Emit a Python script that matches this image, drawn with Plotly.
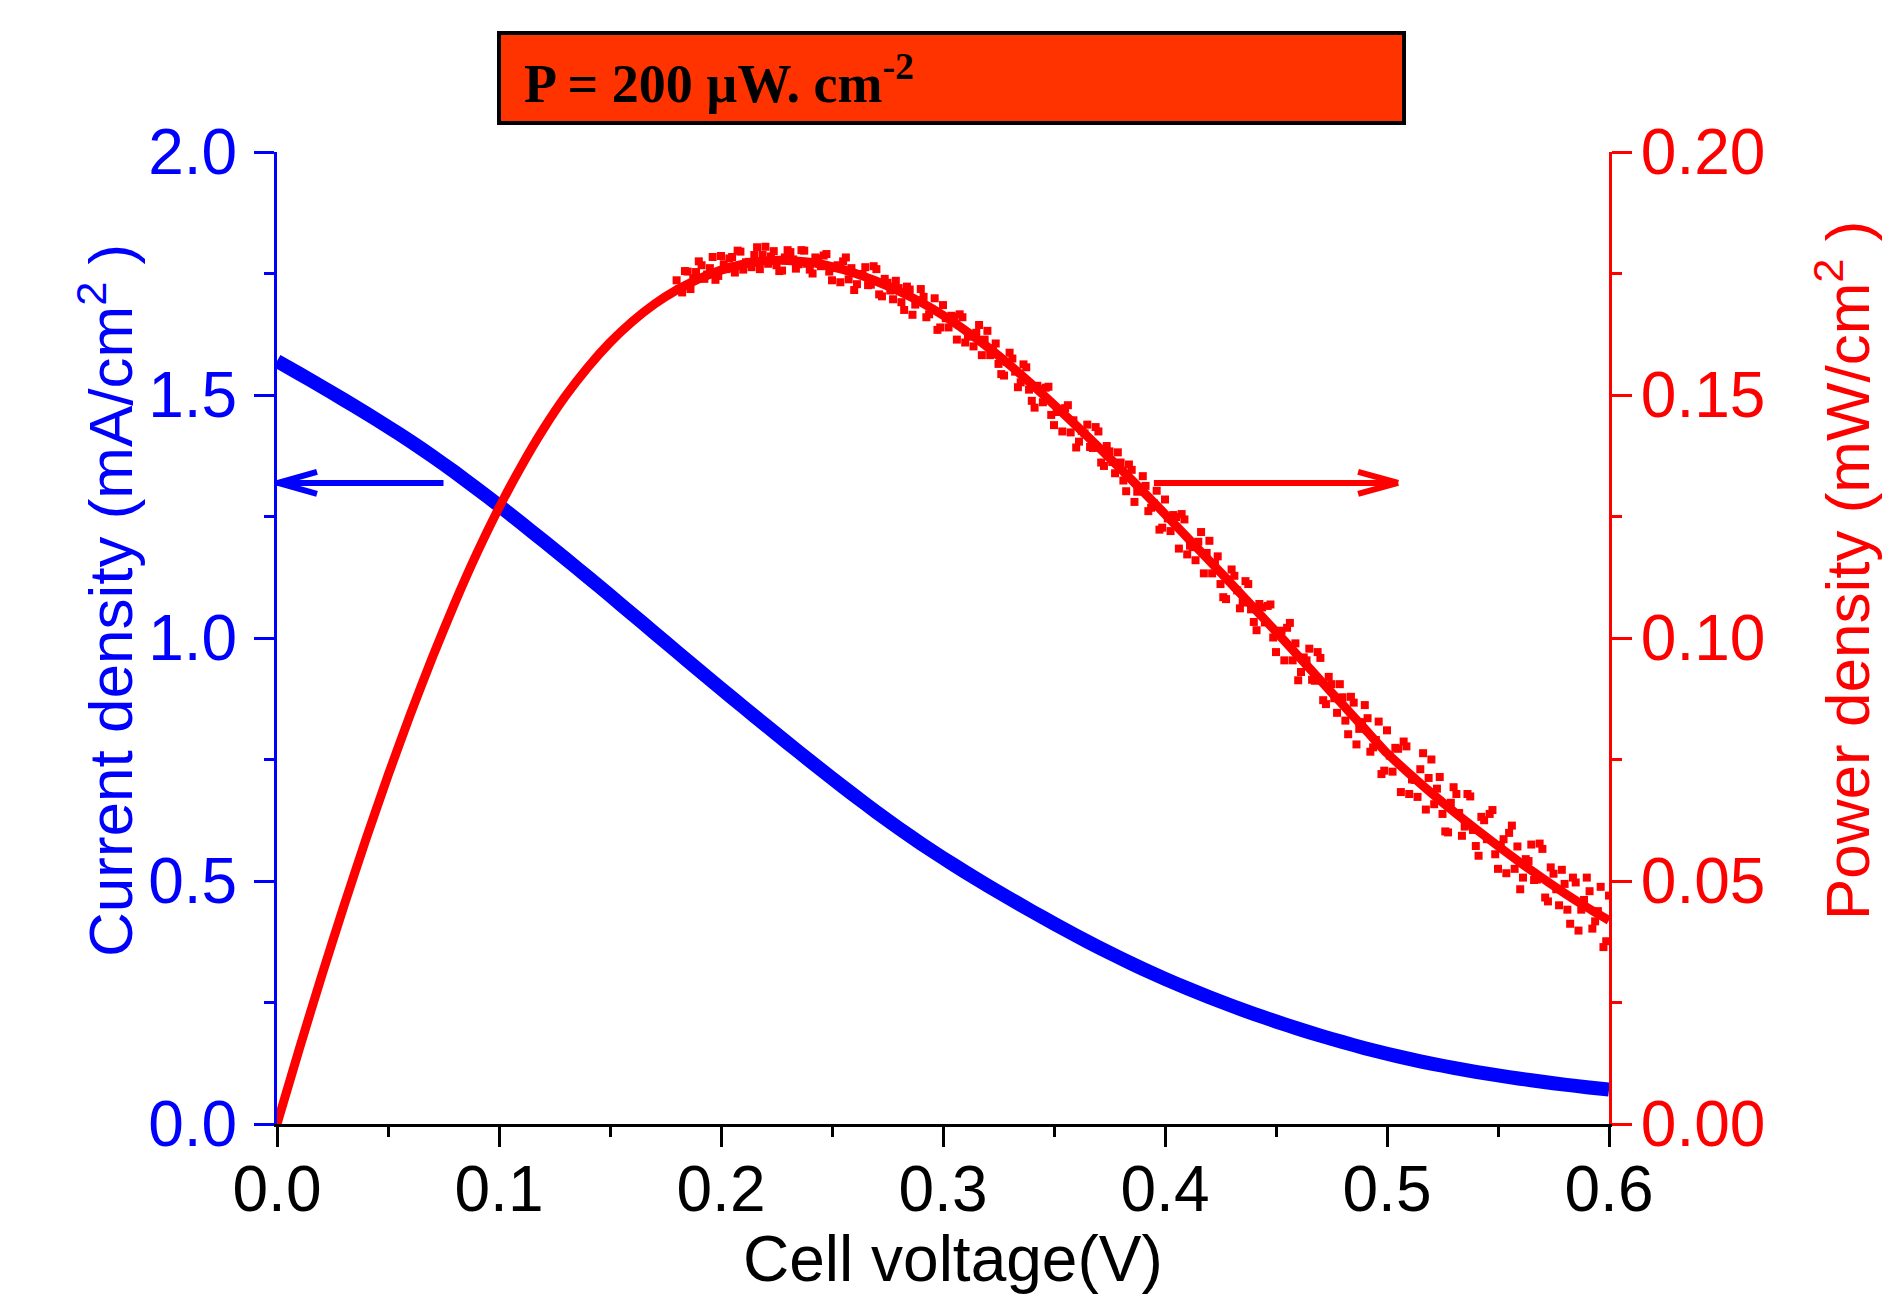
import numpy as np
import plotly.graph_objects as go

# ---------------- data ----------------
V_main = [round(0.01 * i, 2) for i in range(61)]  # cell voltage sweep (V)

J_main = [1.5700, 1.5440, 1.5175, 1.4905, 1.4630, 1.4345, 1.4050, 1.3740, 1.3415, 1.3075,
          1.2725, 1.2365, 1.2000, 1.1630, 1.1255, 1.0875, 1.0492, 1.0107, 0.9722, 0.9339,
          0.8959, 0.8582, 0.8209, 0.7839, 0.7474, 0.7114, 0.6761, 0.6418, 0.6088, 0.5773,
          0.5473, 0.5186, 0.4909, 0.4640, 0.4378, 0.4123, 0.3876, 0.3638, 0.3410, 0.3193,
          0.2987, 0.2792, 0.2607, 0.2432, 0.2266, 0.2109, 0.1960, 0.1819, 0.1686, 0.1561,
          0.1445, 0.1339, 0.1243, 0.1155, 0.1074, 0.1000, 0.0932, 0.0869, 0.0811, 0.0757,
          0.0707]

P_main = [0.0000, 0.0154, 0.0303, 0.0447, 0.0585, 0.0717, 0.0842, 0.0960, 0.1071, 0.1174,
          0.1268, 0.1353, 0.1430, 0.1498, 0.1557, 0.1608, 0.1651, 0.1687, 0.1716, 0.1739,
          0.1757, 0.1769, 0.1776, 0.1777, 0.1773, 0.1764, 0.1751, 0.1734, 0.1714, 0.1691,
          0.1664, 0.1633, 0.1599, 0.1562, 0.1522, 0.1480, 0.1437, 0.1393, 0.1348, 0.1302,
          0.1255, 0.1207, 0.1159, 0.1111, 0.1062, 0.1013, 0.0963, 0.0913, 0.0863, 0.0813,
          0.0763, 0.0721, 0.0681, 0.0643, 0.0607, 0.0572, 0.0538, 0.0506, 0.0475, 0.0446,
          0.0419]

# scattered power-density points, set A (V from 0.18 to 0.60, step 0.0025)
P_scatter_a = [
    0.1736, 0.1711, 0.1754, 0.1740, 0.1775, 0.1739, 0.1761, 0.1737, 0.1786, 0.1759,
    0.1784, 0.1797, 0.1758, 0.1774, 0.1788, 0.1759, 0.1805, 0.1785, 0.1767, 0.1756,
    0.1798, 0.1779, 0.1769, 0.1797, 0.1758, 0.1783, 0.1765, 0.1790,
    0.1736, 0.1767, 0.1775, 0.1738, 0.1716, 0.1749, 0.1763, 0.1727, 0.1759, 0.1703,
    0.1731, 0.1697, 0.1720, 0.1675, 0.1717, 0.1686, 0.1718, 0.1660, 0.1675, 0.1634,
    0.1685, 0.1639, 0.1661, 0.1666, 0.1608, 0.1620, 0.1628, 0.1582, 0.1632, 0.1596,
    0.1564, 0.1540,
    0.1587, 0.1548, 0.1526, 0.1557, 0.1488, 0.1519, 0.1485, 0.1517, 0.1438, 0.1470,
    0.1473, 0.1423, 0.1392, 0.1426, 0.1439, 0.1391, 0.1425, 0.1354, 0.1384, 0.1339,
    0.1361, 0.1302, 0.1346, 0.1301, 0.1333, 0.1261, 0.1277, 0.1223,
    0.1285, 0.1220, 0.1249, 0.1255, 0.1172, 0.1187, 0.1198, 0.1133, 0.1200, 0.1154,
    0.1111, 0.1080, 0.1141, 0.1098, 0.1073, 0.1111, 0.1033, 0.1070, 0.1032, 0.1069,
    0.0971, 0.1015, 0.1021, 0.0954, 0.0913, 0.0960, 0.0978, 0.0912, 0.0959, 0.0864,
    0.0905, 0.0846, 0.0878, 0.0802, 0.0867, 0.0813, 0.0862, 0.0766, 0.0790, 0.0720,
    0.0810, 0.0725, 0.0772, 0.0787, 0.0679, 0.0708, 0.0730, 0.0647, 0.0750, 0.0690,
    0.0638, 0.0600, 0.0693, 0.0640, 0.0612, 0.0674, 0.0572, 0.0632, 0.0586, 0.0646,
    0.0525, 0.0586, 0.0599, 0.0525, 0.0483, 0.0545, 0.0575, 0.0503, 0.0566, 0.0458,
    0.0515, 0.0450, 0.0494, 0.0412, 0.0497, 0.0441, 0.0507, 0.0402, 0.0438, 0.0364,
    0.0470]
V_scatter_a = np.linspace(0.18, 0.60, len(P_scatter_a))

# scattered power-density points, set B (V from 0.18125 to 0.59875, step 0.0025)
P_scatter_b = [
    0.1718, 0.1755, 0.1718, 0.1753, 0.1767, 0.1748, 0.1784, 0.1745, 0.1769, 0.1781,
    0.1752, 0.1795, 0.1773, 0.1763, 0.1804, 0.1788, 0.1770, 0.1796, 0.1755, 0.1783,
    0.1794, 0.1760, 0.1798, 0.1770, 0.1750, 0.1781, 0.1787, 0.1754,
    0.1761, 0.1732, 0.1783, 0.1761, 0.1728, 0.1747, 0.1726, 0.1765, 0.1707, 0.1739,
    0.1715, 0.1735, 0.1691, 0.1723, 0.1665, 0.1695, 0.1702, 0.1666, 0.1699, 0.1639,
    0.1658, 0.1663, 0.1614, 0.1660, 0.1622, 0.1600, 0.1644, 0.1614, 0.1582, 0.1606,
    0.1543, 0.1568,
    0.1575, 0.1516, 0.1563, 0.1511, 0.1474, 0.1512, 0.1515, 0.1459, 0.1465, 0.1425,
    0.1479, 0.1448, 0.1404, 0.1421, 0.1393, 0.1434, 0.1361, 0.1395, 0.1362, 0.1382,
    0.1324, 0.1357, 0.1280, 0.1310, 0.1313, 0.1268, 0.1303, 0.1227,
    0.1246, 0.1253, 0.1184, 0.1244, 0.1190, 0.1160, 0.1218, 0.1175, 0.1133, 0.1168,
    0.1084, 0.1120, 0.1128, 0.1061, 0.1117, 0.1059, 0.1016, 0.1063, 0.1066, 0.1001,
    0.1009, 0.0954, 0.1031, 0.0989, 0.0930, 0.0954, 0.0914, 0.0971, 0.0872, 0.0920,
    0.0876, 0.0905, 0.0830, 0.0879, 0.0781, 0.0827, 0.0835, 0.0775, 0.0828, 0.0727,
    0.0758, 0.0774, 0.0683, 0.0777, 0.0709, 0.0673, 0.0763, 0.0712, 0.0658, 0.0714,
    0.0602, 0.0661, 0.0679, 0.0593, 0.0679, 0.0605, 0.0552, 0.0625, 0.0638, 0.0555,
    0.0574, 0.0516, 0.0614, 0.0571, 0.0507, 0.0541, 0.0502, 0.0577, 0.0466, 0.0528,
    0.0483, 0.0523, 0.0441, 0.0507, 0.0398, 0.0461, 0.0479, 0.0417, 0.0488, 0.0376]
V_scatter_b = np.linspace(0.18125, 0.59875, len(P_scatter_b))

x_ticks = [0.0, 0.1, 0.2, 0.3, 0.4, 0.5, 0.6]
y1_ticks = [0.0, 0.5, 1.0, 1.5, 2.0]
y2_ticks = [0.00, 0.05, 0.10, 0.15, 0.20]

# ---------------- style ----------------
BLUE = "#0000FF"
RED = "#FF0000"
FONT = "Liberation Sans, Arial, sans-serif"
OFF = 8                      # default page margin around the figure
W, H = 1880, 1288
ML, MT = 269, 144
PW, PH = 1332, 972
MR = W - ML - PW
MB = H - MT - PH

fig = go.Figure()

fig.add_trace(go.Scatter(x=V_main, y=J_main, mode="lines",
                         line=dict(color=BLUE, width=14, shape="spline", smoothing=0.6),
                         yaxis="y", showlegend=False, hoverinfo="skip"))
fig.add_trace(go.Scatter(x=V_main, y=P_main, mode="lines",
                         line=dict(color=RED, width=9, shape="spline", smoothing=0.6),
                         yaxis="y2", showlegend=False, hoverinfo="skip"))
for vx, py in ((V_scatter_a, P_scatter_a), (V_scatter_b, P_scatter_b)):
    fig.add_trace(go.Scatter(x=vx, y=py, mode="markers",
                             marker=dict(symbol="square", size=8, color=RED,
                                         line=dict(width=0)),
                             yaxis="y2", showlegend=False, hoverinfo="skip"))

tickfont = dict(family=FONT, size=64)

fig.update_layout(
    width=W, height=H,
    margin=dict(l=ML, r=MR, t=MT, b=MB, pad=0),
    paper_bgcolor="white", plot_bgcolor="white",
    showlegend=False,
    xaxis=dict(range=[0, 0.6], tickvals=x_ticks, tickformat=".1f",
               showgrid=False, zeroline=False, showline=True,
               linecolor="black", linewidth=3,
               ticks="outside", ticklen=20, tickwidth=3, tickcolor="black",
               tickfont=dict(tickfont, color="black"), ticklabelstandoff=-13,
               minor=dict(dtick=0.05, ticks="outside", ticklen=10,
                          tickwidth=3, tickcolor="black")),
    yaxis=dict(range=[0, 2.0], tickvals=y1_ticks, tickformat=".1f",
               showgrid=False, zeroline=False, showline=True,
               linecolor=BLUE, linewidth=3,
               ticks="outside", ticklen=20, tickwidth=3, tickcolor=BLUE,
               tickfont=dict(tickfont, color=BLUE), ticklabelstandoff=4,
               minor=dict(dtick=0.25, ticks="outside", ticklen=10,
                          tickwidth=3, tickcolor=BLUE)),
    yaxis2=dict(range=[0, 0.2], tickvals=y2_ticks, tickformat=".2f",
                overlaying="y", side="right",
                showgrid=False, zeroline=False, showline=True,
                linecolor=RED, linewidth=3,
                ticks="outside", ticklen=20, tickwidth=3, tickcolor=RED,
                tickfont=dict(tickfont, color=RED), ticklabelstandoff=-4,
                minor=dict(dtick=0.025, ticks="outside", ticklen=10,
                           tickwidth=3, tickcolor=RED)),
)


def px_x(p):
    """page pixel -> paper x"""
    return (p - OFF - ML) / PW


def px_y(p):
    """page pixel -> paper y"""
    return (MT + PH - (p - OFF)) / PH


# axis titles
fig.add_annotation(text="Cell voltage(V)", xref="paper", yref="paper",
                   x=px_x(953), y=px_y(1259), xanchor="center", yanchor="middle",
                   showarrow=False, font=dict(family=FONT, size=64, color="black"))
fig.add_annotation(text="Current density (mA/cm<sup>2</sup> )", xref="paper", yref="paper",
                   x=px_x(106), y=px_y(601), xanchor="center", yanchor="middle",
                   textangle=-90, showarrow=False,
                   font=dict(family=FONT, size=62, color=BLUE))
fig.add_annotation(text="Power density (mW/cm<sup>2</sup> )", xref="paper", yref="paper",
                   x=px_x(1843), y=px_y(571), xanchor="center", yanchor="middle",
                   textangle=-90, showarrow=False,
                   font=dict(family=FONT, size=62, color=RED))

# header box
fig.add_shape(type="rect", xref="paper", yref="paper",
              x0=px_x(499), x1=px_x(1404), y0=px_y(123), y1=px_y(33),
              fillcolor="#FF3300", line=dict(color="black", width=4), layer="above")
fig.add_annotation(text="<b>P = 200 µW. cm<sup>-2</sup></b>", xref="paper", yref="paper",
                   x=px_x(522), y=px_y(80), xanchor="left", yanchor="middle",
                   showarrow=False,
                   font=dict(family="Liberation Serif, Times New Roman, serif",
                             size=54, color="black"))

# direction arrows
ARROW_Y1 = 1.319
ARROW_Y2 = 0.1319
blue_tail, blue_head = 0.075, 0.0
red_tail, red_head = 0.395, 0.505
AW = 6

fig.add_shape(type="line", xref="x", yref="y", x0=blue_tail, x1=blue_head,
              y0=ARROW_Y1, y1=ARROW_Y1, line=dict(color=BLUE, width=AW))
for s in (1, -1):
    fig.add_shape(type="line", xref="x", yref="y",
                  xsizemode="pixel", xanchor=blue_head, x0=1, x1=40,
                  ysizemode="pixel", yanchor=ARROW_Y1, y0=0, y1=11 * s,
                  line=dict(color=BLUE, width=AW))

fig.add_shape(type="line", xref="x", yref="y2", x0=red_tail, x1=red_head,
              y0=ARROW_Y2, y1=ARROW_Y2, line=dict(color=RED, width=AW))
for s in (1, -1):
    fig.add_shape(type="line", xref="x", yref="y2",
                  xsizemode="pixel", xanchor=red_head, x0=0, x1=-40,
                  ysizemode="pixel", yanchor=ARROW_Y2, y0=0, y1=11 * s,
                  line=dict(color=RED, width=AW))

fig.write_html("out.html")
